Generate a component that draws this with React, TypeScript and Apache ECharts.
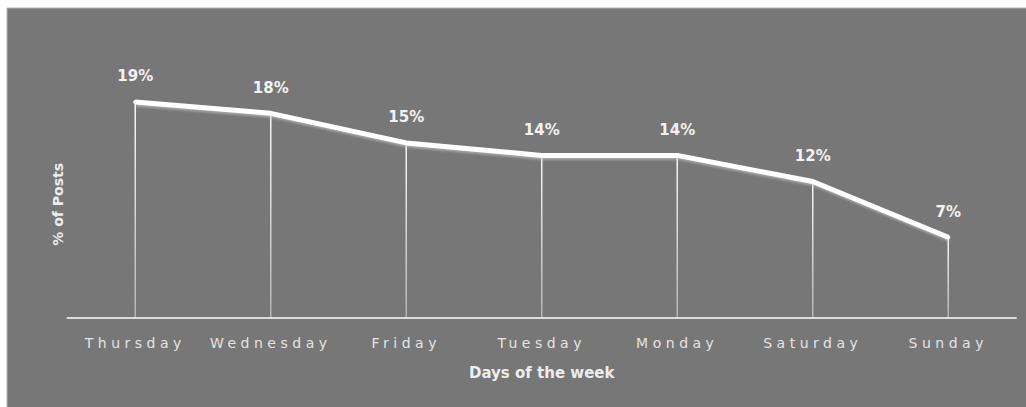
import React, { useEffect, useRef } from "react";
import * as echarts from "echarts";

const categories = ["Thursday", "Wednesday", "Friday", "Tuesday", "Monday", "Saturday", "Sunday"];
const postShare = [0.19, 0.18, 0.154, 0.143, 0.143, 0.12, 0.071];
const yTitle = "% of Posts";
const xTitle = "Days of the week";

const CAT_COLOR = "#e4e4e4";

export default function App() {
  const ref = useRef<HTMLDivElement>(null);
  useEffect(() => {
    if (!ref.current) return;
    const chart = echarts.init(ref.current, undefined, { renderer: "svg" });
    chart.setOption({
      animation: false,
      backgroundColor: "#ffffff",
      graphic: [
        {
          type: "rect",
          z: -10,
          shape: { x: 7, y: 8, width: 1030, height: 410 },
          style: { fill: "#777777", stroke: "#b5b5b5", lineWidth: 1 },
          silent: true,
        },
      ],
      grid: { left: 67.5, right: 10, top: 90.6, bottom: 89 },
      xAxis: {
        type: "category",
        data: categories,
        boundaryGap: true,
        axisLine: { show: true, lineStyle: { color: "#dcdcdc", width: 2 } },
        axisTick: { show: false },
        axisLabel: {
          color: CAT_COLOR,
          fontFamily: "DejaVu Sans",
          fontSize: 14,
          margin: 18,
          interval: 0,
        },
        name: xTitle,
        nameLocation: "middle",
        nameGap: 47,
        nameTextStyle: {
          color: "#ededed",
          fontFamily: "DejaVu Sans",
          fontWeight: "bold",
          fontSize: 15,
        },
      },
      yAxis: {
        type: "value",
        min: 0,
        max: 0.2,
        show: true,
        axisLine: { show: false },
        axisTick: { show: false },
        axisLabel: { show: false },
        splitLine: { show: false },
        name: yTitle,
        nameLocation: "middle",
        nameGap: 3,
        nameRotate: 90,
        nameTextStyle: {
          color: "#ededed",
          fontFamily: "DejaVu Sans",
          fontWeight: "bold",
          fontSize: 14,
        },
      },
      series: [
        {
          type: "bar",
          data: postShare,
          barWidth: 1.5,
          silent: true,
          itemStyle: {
            color: new echarts.graphic.LinearGradient(0, 0, 0, 1, [
              { offset: 0, color: "rgba(255,255,255,0.95)" },
              { offset: 1, color: "rgba(255,255,255,0.45)" },
            ]),
          },
          z: 1,
        },
        {
          type: "line",
          data: postShare,
          symbol: "circle",
          symbolSize: 4,
          showSymbol: true,
          itemStyle: { color: "#ffffff" },
          lineStyle: {
            color: "#ffffff",
            width: 5,
            shadowColor: "rgba(200,200,200,0.6)",
            shadowBlur: 2,
            shadowOffsetY: 2,
            shadowOffsetX: 1,
          },
          label: {
            show: true,
            position: "top",
            distance: 16,
            color: "#f2f2f2",
            fontFamily: "DejaVu Sans",
            fontWeight: "bold",
            fontSize: 15,
            formatter: (p: any) => Math.round(p.value * 100) + "%",
          },
          z: 3,
        },
      ],
    });
    return () => chart.dispose();
  }, []);
  return (
    <>
      <style>{`#chart-box text[fill="${CAT_COLOR}"]{letter-spacing:4.5px;}`}</style>
      <div
        id="chart-box"
        ref={ref}
        style={{ position: "fixed", left: 0, top: 0, width: 1026, height: 407 }}
      />
    </>
  );
}
